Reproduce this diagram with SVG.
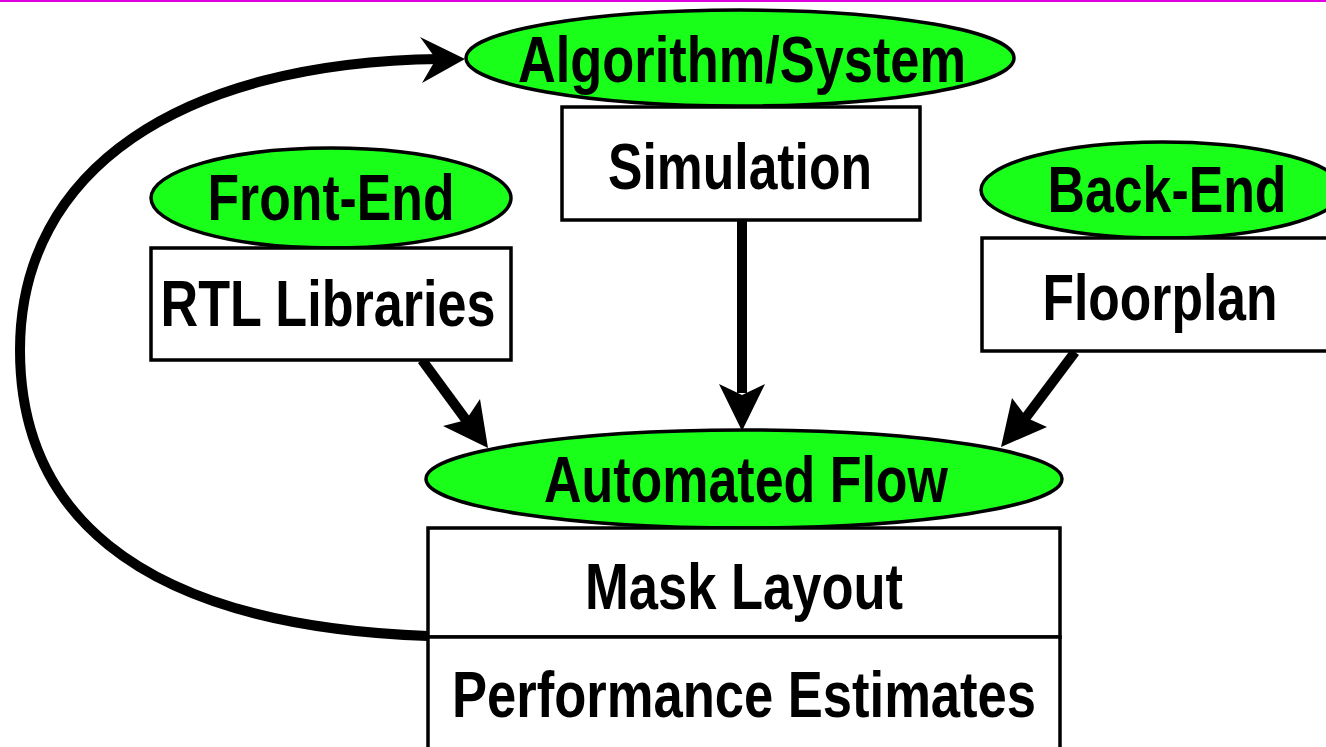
<svg xmlns="http://www.w3.org/2000/svg" width="1326" height="747" viewBox="0 0 1326 747">
<defs>
<style>
.ell{fill:#1aff1a;stroke:#000;stroke-width:3.5}
.box{fill:#fff;stroke:#000;stroke-width:3.5}
.t{font-family:"Liberation Sans Narrow","Liberation Sans",Arial,sans-serif;font-weight:bold;font-size:64px;fill:#000;text-anchor:middle}
.c{fill:none;stroke:#000;stroke-width:10}
.h{fill:#000}
</style>
</defs>
<rect width="1326" height="747" fill="#fff"/>
<line x1="0" y1="1" x2="1326" y2="1" stroke="#e000e0" stroke-width="2"/>
<g id="connectors">
<path class="c" d="M428,636 C 120,625 20,500 20,350 C 20,170 180,62 440,59"/>
<path class="h" d="M465,59 L420,37 L436,59 L422,83 Z"/>
<line class="c" x1="742" y1="220" x2="742" y2="393"/>
<path class="h" d="M742,431 L719,384 L742,395 L765,384 Z"/>
<line class="c" x1="422" y1="360" x2="469" y2="424"/>
<path class="h" d="M488,448 L443,426 L466,420 L480,399 Z"/>
<line class="c" x1="1075" y1="352" x2="1024" y2="420"/>
<path class="h" d="M1001,447 L1012,398 L1027,418 L1047,427 Z"/>
</g>
<g id="algorithm">
<ellipse class="ell" cx="740" cy="58" rx="274" ry="48"/>
<text class="t" x="742" y="82" textLength="448" lengthAdjust="spacingAndGlyphs">Algorithm/System</text>
</g>
<g id="simulation">
<rect class="box" x="562" y="107" width="358" height="113"/>
<text class="t" x="740" y="189" textLength="264" lengthAdjust="spacingAndGlyphs">Simulation</text>
</g>
<g id="frontend">
<ellipse class="ell" cx="331" cy="198" rx="180" ry="50"/>
<text class="t" x="331" y="220" textLength="247" lengthAdjust="spacingAndGlyphs">Front-End</text>
</g>
<g id="rtl">
<rect class="box" x="151" y="248" width="360" height="112"/>
<text class="t" x="328" y="326" textLength="335" lengthAdjust="spacingAndGlyphs">RTL Libraries</text>
</g>
<g id="backend">
<ellipse class="ell" cx="1162" cy="190" rx="181" ry="48"/>
<text class="t" x="1167" y="212" textLength="239" lengthAdjust="spacingAndGlyphs">Back-End</text>
</g>
<g id="floorplan">
<rect class="box" x="982" y="238" width="360" height="113"/>
<text class="t" x="1160" y="320" textLength="235" lengthAdjust="spacingAndGlyphs">Floorplan</text>
</g>
<g id="automated">
<ellipse class="ell" cx="744" cy="479" rx="318" ry="49"/>
<text class="t" x="746" y="502" textLength="404" lengthAdjust="spacingAndGlyphs">Automated Flow</text>
</g>
<g id="mask">
<rect class="box" x="428" y="528" width="632" height="109"/>
<text class="t" x="744" y="609" textLength="318" lengthAdjust="spacingAndGlyphs">Mask Layout</text>
</g>
<g id="performance">
<rect class="box" x="428" y="637" width="632" height="120"/>
<text class="t" x="744" y="717" textLength="584" lengthAdjust="spacingAndGlyphs">Performance Estimates</text>
</g>
</svg>
